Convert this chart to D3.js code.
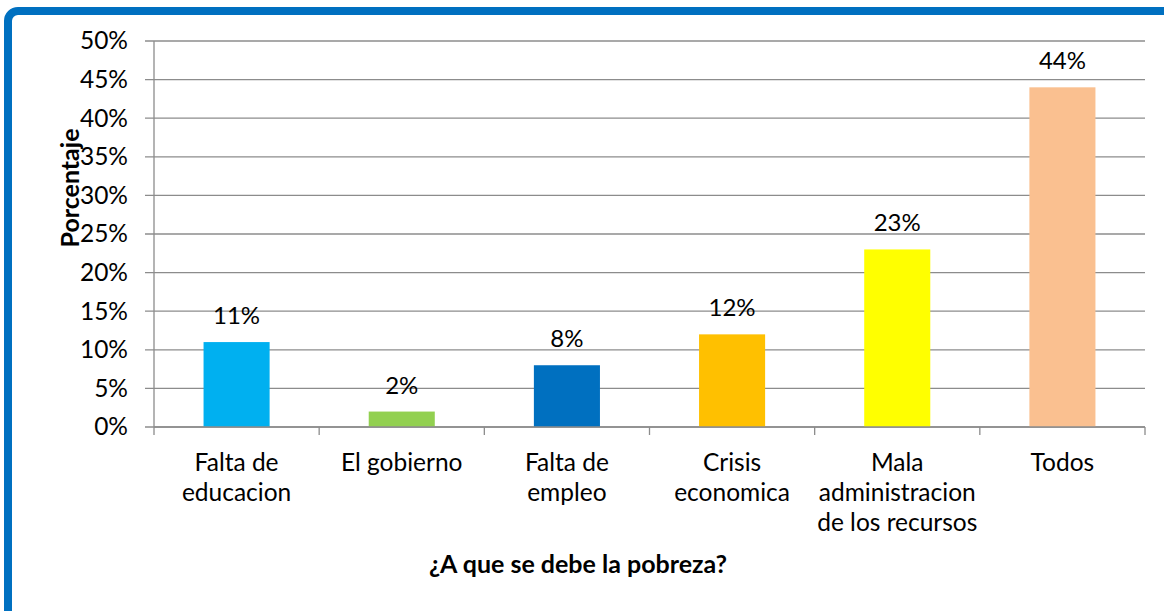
<!DOCTYPE html>
<html>
<head>
<meta charset="utf-8">
<script src="https://cdn.jsdelivr.net/npm/d3@7"></script>
<style>
  html, body { margin: 0; padding: 0; background: #fff; }
  svg { display: block; }
  text { font-family: Lato, "Open Sans", sans-serif; fill: #000; }
</style>
</head>
<body>
<svg id="chart" width="1164" height="611"></svg>
<script>
const categories = [["Falta de", "educacion"], ["El gobierno"], ["Falta de", "empleo"], ["Crisis", "economica"], ["Mala", "administracion", "de los recursos"], ["Todos"]];
const values = [11, 2, 8, 12, 23, 44];
const barColors = ["#00B0F0", "#92D050", "#0070C0", "#FFC000", "#FFFF00", "#FAC090"];
const yTicks = [0, 5, 10, 15, 20, 25, 30, 35, 40, 45, 50];
const yTitle = "Porcentaje";
const xTitle = "¿A que se debe la pobreza?";

const svg = d3.select("#chart");

// frame
svg.append("rect")
  .attr("x", 8).attr("y", 11)
  .attr("width", 1200).attr("height", 700)
  .attr("rx", 10).attr("ry", 10)
  .attr("fill", "none").attr("stroke", "#0070C0").attr("stroke-width", 8);

const pLeft = 154, pRight = 1145, pTop = 41, pBottom = 427;
const idx = d3.range(categories.length);
const x = d3.scaleBand().domain(idx).range([pLeft, pRight]).paddingInner(0.6).paddingOuter(0.3);
const y = d3.scaleLinear().domain([0, 50]).range([pBottom, pTop]);

// gridlines
svg.append("g").selectAll("line").data(yTicks).join("line")
  .attr("x1", pLeft - 9).attr("x2", pRight)
  .attr("y1", d => y(d)).attr("y2", d => y(d))
  .attr("stroke", "#8c8c8c").attr("stroke-width", 1.3);

// y axis
const yAxis = d3.axisLeft(y).tickValues(yTicks).tickFormat(d => d + "%").tickSize(0).tickPadding(26);
const gy = svg.append("g").attr("transform", `translate(${pLeft},0)`).call(yAxis);
gy.select(".domain").remove();
gy.selectAll("text").style("font-size", "24.5px").style("font-family", "Lato, sans-serif").attr("fill", "#000");
svg.append("line").attr("x1", pLeft).attr("x2", pLeft).attr("y1", pTop).attr("y2", pBottom)
  .attr("stroke", "#8c8c8c").attr("stroke-width", 1.3);

// bars
svg.append("g").selectAll("rect").data(idx).join("rect")
  .attr("x", i => x(i)).attr("width", x.bandwidth())
  .attr("y", i => y(values[i])).attr("height", i => y(0) - y(values[i]))
  .attr("fill", i => barColors[i]);

// value labels
svg.append("g").selectAll("text").data(idx).join("text")
  .attr("x", i => x(i) + x.bandwidth() / 2)
  .attr("y", i => y(values[i]) - 18)
  .attr("text-anchor", "middle")
  .style("font-size", "24px")
  .text(i => values[i] + "%");

// x axis line + ticks
svg.append("line").attr("x1", pLeft).attr("x2", pRight).attr("y1", pBottom).attr("y2", pBottom)
  .attr("stroke", "#8c8c8c").attr("stroke-width", 1.3);
const step = x.step();
const xTickPos = d3.range(categories.length + 1).map(k => pLeft + k * step);
svg.append("g").selectAll("line").data(xTickPos).join("line")
  .attr("x1", d => d).attr("x2", d => d).attr("y1", pBottom).attr("y2", pBottom + 8)
  .attr("stroke", "#8c8c8c").attr("stroke-width", 1.3);

// category labels
const cl = svg.append("g").selectAll("text").data(idx).join("text")
  .attr("text-anchor", "middle")
  .style("font-size", "24.5px")
  .attr("x", i => x(i) + x.bandwidth() / 2)
  .attr("y", 471);
cl.selectAll("tspan").data(i => categories[i].map(t => ({t, cx: x(i) + x.bandwidth() / 2}))).join("tspan")
  .attr("x", d => d.cx).attr("dy", (d, k) => k === 0 ? 0 : 30)
  .text(d => d.t);

// axis titles
svg.append("text")
  .attr("transform", `translate(79,188) rotate(-90)`)
  .attr("text-anchor", "middle")
  .style("font-size", "25px").style("font-weight", "bold")
  .text(yTitle);

svg.append("text")
  .attr("x", 578).attr("y", 573)
  .attr("text-anchor", "middle")
  .style("font-size", "25px").style("font-weight", "bold")
  .text(xTitle);
</script>
</body>
</html>
